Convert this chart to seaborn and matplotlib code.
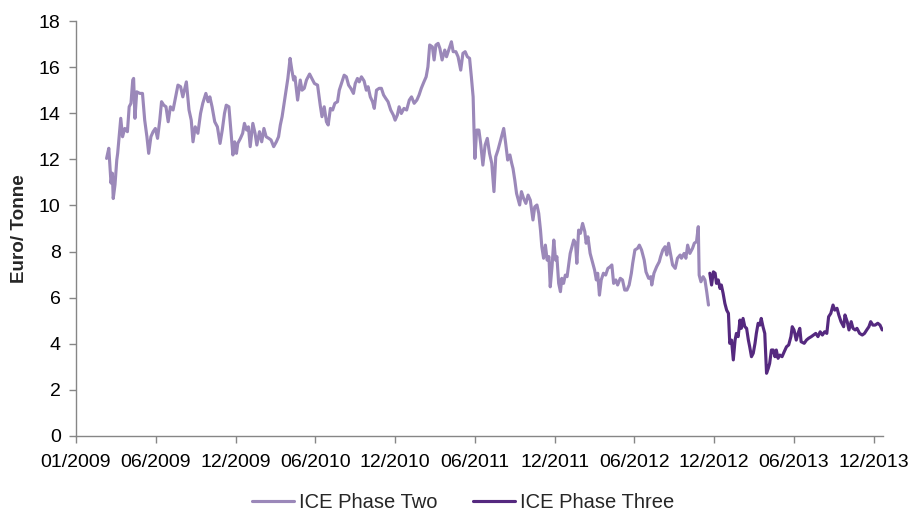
import pandas as pd
import matplotlib
matplotlib.use("Agg")
import matplotlib.pyplot as plt
import seaborn as sns

# EUA prices; x = days since 01/01/2009
p2_days = [69, 74, 77, 79, 82, 84, 88, 92, 94, 97, 101, 105, 110, 116, 120, 124, 128, 130, 133, 137,
           144, 150, 155, 160, 164, 169, 174, 179, 184, 189, 193, 198, 203, 208, 213, 219, 224, 230, 236, 241,
           249, 255, 260, 264, 269, 275, 281, 286, 293, 298, 302, 307, 313, 319, 325, 330, 335, 339, 345, 350,
           354, 358, 362, 365, 371, 376, 380, 385, 389, 393, 399, 404, 408, 414, 419, 424, 429, 435, 440, 446,
           452, 457, 461, 465, 469, 474, 478, 483, 487, 491, 494, 500, 506, 510, 515, 520, 527, 532, 538, 545,
           551, 555, 560, 565, 569, 574, 579, 584, 590, 594, 599, 605, 610, 615, 620, 626, 630, 635, 639, 644,
           650, 655, 659, 664, 669, 673, 678, 684, 689, 694, 699, 704, 710, 716, 720, 725, 729, 734, 740, 746,
           752, 757, 763, 769, 774, 779, 785, 790, 794, 798, 804, 808, 812, 817, 821, 826, 832, 836, 842, 847,
           851, 857, 862, 868, 873, 878, 883, 888, 892, 896, 898, 900, 904, 909, 913, 918, 923, 928, 933, 938,
           943, 947, 952, 956, 961, 965, 969, 974, 979, 983, 986, 990, 994, 997, 1001, 1005, 1010, 1015, 1020, 1025,
           1031, 1035, 1040, 1044, 1048, 1051, 1055, 1059, 1063, 1067, 1070, 1074, 1078, 1082, 1085, 1089, 1093, 1096, 1100, 1104,
           1108, 1112, 1115, 1119, 1123, 1127, 1130, 1134, 1138, 1143, 1148, 1151, 1155, 1160, 1166, 1170, 1174, 1177, 1181, 1185,
           1190, 1195, 1200, 1205, 1209, 1213, 1218, 1222, 1228, 1233, 1238, 1243, 1248, 1253, 1256, 1261, 1267, 1271, 1276, 1282,
           1286, 1292, 1297, 1299, 1304, 1310, 1316, 1319, 1324, 1329, 1333, 1337, 1342, 1346, 1352, 1357, 1363, 1366, 1372, 1376,
           1380, 1385, 1391, 1395, 1400, 1404, 1406, 1410, 1415, 1419, 1423, 1427]
p2_price = [12.04, 12.48, 11.6, 10.97, 11.4, 10.3, 10.9, 11.97, 12.26, 12.9, 13.78, 12.98, 13.34, 13.2, 14.28, 14.43, 15.44, 15.51, 13.78, 14.93,
            14.86, 14.86, 13.7, 12.98, 12.26, 12.98, 13.2, 13.34, 12.91, 13.7, 14.5, 14.35, 14.28, 13.63, 14.28, 14.14, 14.64, 15.22, 15.15, 14.71,
            15.36, 14.14, 13.7, 12.76, 13.41, 13.13, 13.99, 14.43, 14.86, 14.5, 14.71, 14.28, 13.63, 13.41, 12.69, 13.27, 13.99, 14.35, 14.28, 13.13,
            12.19, 12.76, 12.26, 12.69, 12.91, 13.13, 13.56, 13.27, 13.41, 12.55, 13.56, 13.13, 12.62, 13.2, 12.76, 13.34, 12.98, 12.91, 12.84, 12.55,
            12.76, 12.98, 13.49, 13.85, 14.35, 15.0, 15.51, 16.38, 15.87, 15.44, 15.58, 14.57, 15.44, 15.0, 15.08, 15.44, 15.7, 15.51, 15.29, 15.22,
            14.35, 13.85, 14.28, 13.63, 13.49, 14.21, 14.14, 14.43, 14.5, 15.0, 15.29, 15.65, 15.58, 15.22, 15.08, 14.86, 15.29, 15.51, 15.36, 15.58,
            15.4, 15.0, 15.15, 14.71, 14.5, 14.21, 15.0, 15.08, 15.08, 14.79, 14.64, 14.5, 14.14, 13.92, 13.7, 13.92, 14.28, 13.99, 14.21, 14.14,
            14.57, 14.71, 14.43, 14.57, 14.79, 15.08, 15.36, 15.58, 16.01, 16.96, 16.88, 16.31, 16.96, 17.03, 16.81, 16.31, 16.74, 16.45, 16.81, 17.1,
            16.67, 16.67, 16.45, 15.87, 16.6, 16.67, 16.45, 16.38, 15.58, 14.71, 13.27, 12.04, 13.27, 13.27, 12.69, 11.75, 12.62, 12.91, 12.26, 11.83,
            10.6, 12.11, 12.4, 12.69, 13.05, 13.34, 12.76, 11.97, 12.19, 11.83, 11.6, 11.1, 10.52, 10.3, 10.02, 10.6, 10.3, 10.09, 10.45, 10.23,
            9.37, 9.94, 10.02, 9.66, 8.93, 8.21, 7.71, 8.28, 7.63, 7.78, 6.47, 7.34, 8.5, 7.63, 7.78, 6.62, 6.26, 6.84, 6.62, 6.98,
            6.91, 7.49, 7.92, 8.21, 8.5, 8.36, 7.49, 8.93, 8.79, 9.22, 8.86, 8.36, 8.64, 7.92, 7.49, 7.2, 6.77, 7.06, 6.11, 6.77,
            7.06, 6.98, 7.27, 7.34, 7.42, 6.62, 6.77, 6.55, 6.84, 6.77, 6.33, 6.33, 6.55, 7.06, 7.49, 8.07, 8.14, 8.28, 8.07, 7.63,
            7.12, 6.84, 6.91, 6.55, 7.06, 7.34, 7.56, 7.78, 8.07, 8.21, 7.85, 8.36, 7.85, 7.42, 7.27, 7.71, 7.85, 7.71, 7.92, 7.71,
            8.28, 7.92, 8.14, 8.36, 8.43, 9.08, 6.98, 6.69, 6.91, 6.77, 6.26, 5.68]

p3_days = [1430, 1434, 1438, 1442, 1445, 1449, 1453, 1456, 1460, 1464, 1468, 1472, 1475, 1479, 1483, 1487, 1490, 1494, 1498, 1501,
           1505, 1509, 1513, 1517, 1520, 1524, 1528, 1532, 1535, 1539, 1543, 1546, 1550, 1554, 1558, 1562, 1565, 1569, 1573, 1577,
           1580, 1584, 1588, 1593, 1598, 1603, 1608, 1613, 1616, 1620, 1625, 1629, 1633, 1636, 1643, 1648, 1653, 1659, 1664, 1669,
           1674, 1679, 1684, 1689, 1694, 1698, 1703, 1708, 1712, 1717, 1721, 1726, 1732, 1735, 1740, 1744, 1749, 1753, 1758, 1762,
           1768, 1774, 1779, 1784, 1789, 1793, 1798, 1803, 1809, 1814, 1819]
p3_price = [7.06, 6.55, 7.12, 7.06, 6.62, 6.77, 6.4, 6.55, 6.19, 5.75, 5.46, 5.32, 4.02, 4.16, 3.3, 4.16, 4.45, 4.31, 5.03, 4.67,
            5.1, 4.74, 4.67, 4.16, 3.87, 3.44, 3.59, 4.02, 4.45, 4.89, 4.81, 5.1, 4.74, 4.45, 2.72, 2.94, 3.15, 3.73, 3.73, 3.44,
            3.73, 3.37, 3.51, 3.44, 3.66, 3.87, 3.95, 4.31, 4.74, 4.6, 4.16, 4.45, 4.67, 4.09, 4.02, 4.16, 4.24, 4.31, 4.38, 4.45,
            4.31, 4.52, 4.38, 4.52, 4.45, 5.17, 5.32, 5.68, 5.46, 5.54, 5.25, 4.96, 4.74, 5.25, 4.96, 4.6, 4.96, 4.67, 4.6, 4.67,
            4.45, 4.38, 4.45, 4.6, 4.74, 4.96, 4.81, 4.81, 4.89, 4.81, 4.6]

series_names = ["ICE Phase Two", "ICE Phase Three"]
colors = {"ICE Phase Two": "#9b88b9", "ICE Phase Three": "#55297f"}

start = pd.Timestamp("2009-01-01")
df = pd.concat([
    pd.DataFrame({"date": start + pd.to_timedelta(p2_days, unit="D"), "price": p2_price, "series": series_names[0]}),
    pd.DataFrame({"date": start + pd.to_timedelta(p3_days, unit="D"), "price": p3_price, "series": series_names[1]}),
])

sns.set_style("ticks")
plt.rcParams["font.family"] = ["Liberation Sans", "DejaVu Sans"]

fig = plt.figure(figsize=(9.08, 5.15), dpi=100)
ax = fig.add_axes([0.0837, 0.1534, 0.8884, 0.8058])

sns.lineplot(data=df, x="date", y="price", hue="series", palette=colors,
             linewidth=2.25, ax=ax, legend=False)

# axis ticks every 180 days as in the original
ticks = pd.date_range(start, periods=11, freq="180D")
ax.set_xticks(ticks)
ax.set_xticklabels([t.strftime("%m/%Y") for t in ticks])
ax.set_xlim(start, start + pd.Timedelta(days=1820))
ax.set_ylim(0, 18)
ax.set_yticks(range(0, 19, 2))

ax.set_xlabel("")
ax.set_ylabel("Euro/ Tonne", fontsize=13.6, fontweight="bold", labelpad=8)
ax.tick_params(axis="both", labelsize=14, colors="#868686", labelcolor="black",
               length=5, width=1, direction="out")
ax.tick_params(axis="x", pad=8)
ax.tick_params(axis="y", pad=6)

sns.despine(ax=ax)
for s in ["left", "bottom"]:
    ax.spines[s].set_color("#868686")
    ax.spines[s].set_linewidth(1)

handles = [plt.Line2D([], [], color=colors[n], linewidth=2.25) for n in series_names]
fig.legend(handles, series_names, loc="center", bbox_to_anchor=(0.51, 0.025),
           ncol=2, frameon=False, fontsize=14.5, handlelength=2.1, handletextpad=0.25,
           columnspacing=1.75)

fig.savefig("out.png", dpi=100)
